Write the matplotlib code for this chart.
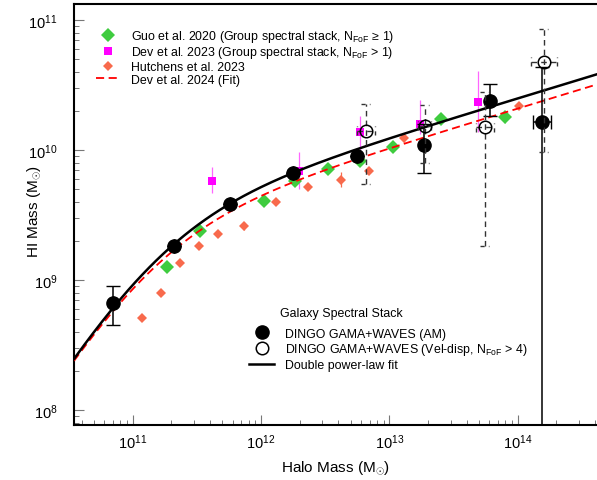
import numpy as np
import matplotlib
matplotlib.use("Agg")
import matplotlib.pyplot as plt
from matplotlib.lines import Line2D
from matplotlib.ticker import LogLocator, NullFormatter

plt.rcParams['font.family'] = ['Liberation Sans', 'DejaVu Sans']
plt.rcParams['mathtext.fontset'] = 'custom'
plt.rcParams['mathtext.rm'] = 'Liberation Sans'
plt.rcParams['mathtext.it'] = 'Liberation Sans:italic'
plt.rcParams['mathtext.bf'] = 'Liberation Sans:bold'

# ---------- data (log10 of masses in Msun) ----------

# DINGO GAMA+WAVES, abundance matched halo masses
am_logmh = [10.847, 11.320, 11.757, 12.247, 12.745, 13.270, 13.780, 14.188]
am_loghi = [8.825, 9.264, 9.587, 9.826, 9.956, 10.043, 10.377, 10.215]
am_hi_up = [8.957, 9.264, 9.587, 9.826, 9.956, 10.200, 10.510, 10.640]
am_hi_lo = [8.656, 9.264, 9.587, 9.826, 9.956, 9.825, 10.266, 7.000]
am_dmh = [0.0, 0.0, 0.0, 0.0, 0.0, 0.0, 0.0, 0.07]

# DINGO GAMA+WAVES, velocity dispersion halo masses (N_FoF > 4)
vd_logmh = [12.816, 13.275, 13.742, 14.203]
vd_loghi = [10.151, 10.190, 10.177, 10.682]
vd_hi_up = [10.356, 10.348, 10.448, 10.933]
vd_hi_lo = [9.740, 9.900, 9.266, 9.990]
vd_dmh = [0.07, 0.05, 0.07, 0.10]

# Guo et al. 2020
guo_logmh = [11.269, 11.524, 12.022, 12.264, 12.522, 12.769, 13.028, 13.400, 13.900]
guo_loghi = [9.105, 9.382, 9.612, 9.762, 9.856, 9.920, 10.023, 10.240, 10.254]
guo_err = [0.02, 0.02, 0.02, 0.02, 0.02, 0.02, 0.02, 0.03, 0.047]

# Dev et al. 2023
dev_logmh = [11.614, 12.295, 12.769, 13.241, 13.690]
dev_loghi = [9.766, 9.843, 10.143, 10.200, 10.374]
dev_hi_up = [9.870, 9.985, 10.266, 10.390, 10.612]
dev_hi_lo = [9.670, 9.700, 9.987, 10.125, 10.138]

# Hutchens et al. 2023
hut_logmh = [11.070, 11.218, 11.368, 11.518, 11.666, 11.869, 12.115, 12.367,
             12.619, 12.840, 13.114, 14.010]
hut_loghi = [8.708, 8.902, 9.131, 9.262, 9.356, 9.420, 9.605, 9.715,
             9.774, 9.843, 10.092, 10.343]
hut_err = [0.01, 0.01, 0.015, 0.02, 0.02, 0.03, 0.02, 0.02, 0.06, 0.02, 0.03, 0.02]

# double power-law fits: (log A, log M1, low-mass slope, high-mass slope)
dpl_this = (9.56, 11.20, 1.6, 0.30)
dpl_dev24 = (9.464, 11.14, 1.6, 0.30)


def dpl(mh, pars):
    logA, logM1, a, b = pars
    x = mh / 10**logM1
    return 10**logA * x**a / (1.0 + x)**(a - b)


def asym(logy, up, lo):
    y = 10**np.array(logy)
    return y, [y - 10**np.array(lo), 10**np.array(up) - y]


def xerr_dex(logx, d):
    x = 10**np.array(logx)
    d = np.array(d)
    return [x - x / 10**d, x * 10**d - x]


fig = plt.figure(figsize=(5.97, 4.81), dpi=100)
ax = fig.add_axes([0.124, 0.1143, 0.876, 0.8747])
ax.set_xscale('log')
ax.set_yscale('log')
xlo, xhi = 10**10.5425, 10**14.617
ax.set_xlim(xlo, xhi)
ax.set_ylim(10**7.887, 10**11.123)

# Hutchens et al. 2023
y, yerr = asym(hut_loghi, np.add(hut_loghi, hut_err), np.subtract(hut_loghi, hut_err))
ax.errorbar(10**np.array(hut_logmh), y, yerr=yerr, fmt='D', ms=5.5, color='#f86a4c',
            ecolor='#f86a4c', elinewidth=0.9, capsize=3, mew=0, zorder=3)

# Guo et al. 2020
y, yerr = asym(guo_loghi, np.add(guo_loghi, guo_err), np.subtract(guo_loghi, guo_err))
ax.errorbar(10**np.array(guo_logmh), y, yerr=yerr, fmt='D', ms=7, color='#3fcc3f',
            ecolor='#8fe08f', elinewidth=0.8, capsize=4, mew=0, zorder=3)

# Dev et al. 2023
y, yerr = asym(dev_loghi, dev_hi_up, dev_hi_lo)
ax.errorbar(10**np.array(dev_logmh), y, yerr=yerr, fmt='s', ms=6, color='#ff00ff',
            ecolor='#ff66ff', elinewidth=0.9, capsize=4, mew=0, zorder=3)

# fits
mgrid = np.logspace(np.log10(xlo), np.log10(xhi), 300)
ax.plot(mgrid, dpl(mgrid, dpl_dev24), color='red', lw=1.3, dashes=(4.5, 2.5), zorder=4)
ax.plot(mgrid, dpl(mgrid, dpl_this), color='black', lw=1.8, zorder=5)

# AM stack
y, yerr = asym(am_loghi, am_hi_up, am_hi_lo)
ax.errorbar(10**np.array(am_logmh), y, yerr=yerr, xerr=xerr_dex(am_logmh, am_dmh),
            fmt='o', ms=9.5, color='black', elinewidth=1.1, capsize=5, zorder=6)

# velocity-dispersion stack: dashed error bars with dashed caps
y, yerr = asym(vd_loghi, vd_hi_up, vd_hi_lo)
x = 10**np.array(vd_logmh)
xerr = xerr_dex(vd_logmh, vd_dmh)
eb = ax.errorbar(x, y, yerr=yerr, xerr=xerr, fmt='o', ms=9, mfc='none', mec='black',
                 mew=1.1, ecolor='#333333', elinewidth=1.0, capsize=0, zorder=7)
for lc in eb[2]:
    lc.set_linestyle((0, (4, 3)))
cap = 10**0.035
ax.hlines(y - yerr[0], x / cap, x * cap, colors='#333333', lw=1.0, linestyles=(0, (3, 3)), zorder=7)
ax.hlines(y + yerr[1], x / cap, x * cap, colors='#333333', lw=1.0, linestyles=(0, (3, 3)), zorder=7)
ax.vlines(x - xerr[0], y / cap, y * cap, colors='#333333', lw=1.0, linestyles=(0, (3, 3)), zorder=7)
ax.vlines(x + xerr[1], y / cap, y * cap, colors='#333333', lw=1.0, linestyles=(0, (3, 3)), zorder=7)

# axes styling
for side in ['left', 'bottom', 'top']:
    ax.spines[side].set_linewidth(1.5)
ax.spines['right'].set_visible(False)
ax.xaxis.set_major_locator(LogLocator(base=10, numticks=10))
ax.xaxis.set_minor_locator(LogLocator(base=10, subs=np.arange(2, 10), numticks=20))
ax.yaxis.set_minor_locator(LogLocator(base=10, subs=np.arange(2, 10), numticks=20))
ax.xaxis.set_minor_formatter(NullFormatter())
ax.yaxis.set_minor_formatter(NullFormatter())
ax.tick_params(which='both', direction='in', top=False, right=False, color='#777777')
ax.tick_params(which='major', length=7.5, width=0.8, labelsize=10.5)
ax.tick_params(which='minor', length=3.8, width=0.7)
ax.tick_params(axis='x', which='major', pad=5)
ax.tick_params(axis='y', which='major', pad=12)

ax.set_xlabel(r'Halo Mass (M$_{\odot}$)', fontsize=11, labelpad=6)
ax.set_ylabel(r'HI Mass (M$_{\odot}$)', fontsize=11)
ax.yaxis.set_label_coords(-0.059, 0.51)

# literature legend
lit_handles = [
    Line2D([], [], ls='none', marker='D', ms=7, color='#3fcc3f', mew=0),
    Line2D([], [], ls='none', marker='s', ms=6, color='#ff00ff', mew=0),
    Line2D([], [], ls='none', marker='D', ms=5, color='#f86a4c', mew=0),
    Line2D([], [], color='red', lw=1.3, dashes=(4.5, 2.5)),
]
lit_labels = [
    r'Guo et al. 2020 (Group spectral stack, N$_{\mathrm{FoF}}$ ≥ 1)',
    r'Dev et al. 2023 (Group spectral stack, N$_{\mathrm{FoF}}$ > 1)',
    'Hutchens et al. 2023',
    'Dev et al. 2024 (Fit)',
]
leg1 = ax.legend(lit_handles, lit_labels, loc='upper left', bbox_to_anchor=(0.042, 0.944),
                 frameon=False, fontsize=8.9, handlelength=2.0, handletextpad=0.85,
                 labelspacing=0.05, borderpad=0, borderaxespad=0)
ax.add_artist(leg1)

# DINGO legend
ding_handles = [
    Line2D([], [], ls='none', marker='o', ms=9.5, color='black'),
    Line2D([], [], ls='none', marker='o', ms=9, mfc='none', mec='black', mew=1.1),
    Line2D([], [], color='black', lw=1.8),
]
ding_labels = [
    'DINGO GAMA+WAVES (AM)',
    r'DINGO GAMA+WAVES (Vel-disp, N$_{\mathrm{FoF}}$ > 4)',
    'Double power-law fit',
]
ax.legend(ding_handles, ding_labels, loc='upper left', bbox_to_anchor=(0.335, 0.2315),
          frameon=False, fontsize=8.9, handlelength=2.0, handletextpad=0.9,
          labelspacing=0.15, borderpad=0, borderaxespad=0)
ax.text(0.394, 0.267, 'Galaxy Spectral Stack', transform=ax.transAxes, fontsize=8.9,
        ha='left', va='center')

fig.savefig('out.png', dpi=100)
